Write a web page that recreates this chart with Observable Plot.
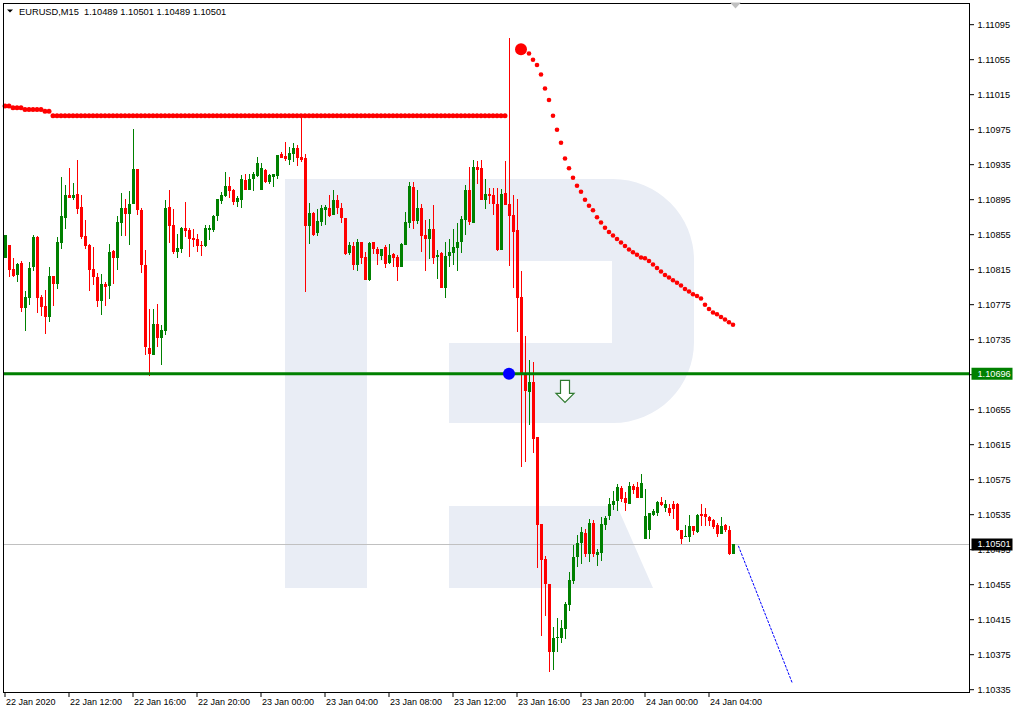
<!DOCTYPE html>
<html><head><meta charset="utf-8">
<script src="https://cdn.jsdelivr.net/npm/d3@7"></script>
<script src="https://cdn.jsdelivr.net/npm/@observablehq/plot@0.6"></script>
<style>
html,body{margin:0;padding:0;background:#fff;}
#chart{width:1015px;height:714px;overflow:hidden;}
</style></head><body>
<div id="chart"></div>
<script>
// ---- data (EURUSD M15, bar 0 = 22 Jan 2020 08:00) ----
const symbolName = "EURUSD", timeframe = "M15";
const open = [1.10828,1.10843,1.10815,1.10808,1.10822,1.10771,1.10782,1.10817,1.10852,1.10783,
1.10773,1.10760,1.10807,1.10798,1.10845,1.10874,1.10900,1.10896,1.10901,1.10886,
1.10853,1.10843,1.10815,1.10806,1.10779,1.10798,1.10796,1.10836,1.10828,1.10868,
1.10885,1.10878,1.10890,1.10930,1.10883,1.10820,1.10725,1.10717,1.10752,1.10736,
1.10744,1.10886,1.10865,1.10835,1.10838,1.10862,1.10860,1.10851,1.10850,1.10843,
1.10841,1.10860,1.10860,1.10876,1.10893,1.10899,1.10910,1.10906,1.10892,1.10894,
1.10917,1.10905,1.10918,1.10922,1.10905,1.10928,1.10915,1.10920,1.10922,1.10947,
1.10944,1.10940,1.10947,1.10953,1.10943,1.10942,1.10864,1.10879,1.10856,1.10869,
1.10883,1.10885,1.10877,1.10894,1.10885,1.10873,1.10833,1.10841,1.10820,1.10846,
1.10829,1.10803,1.10846,1.10838,1.10830,1.10840,1.10822,1.10832,1.10829,1.10818,
1.10843,1.10868,1.10909,1.10870,1.10885,1.10854,1.10849,1.10861,1.10829,1.10833,
1.10794,1.10830,1.10834,1.10839,1.10846,1.10871,1.10906,1.10868,1.10932,1.10931,
1.10894,1.10901,1.10900,1.10890,1.10837,1.10902,1.10890,1.10877,1.10860,1.10783,
1.10696,1.10675,1.10686,1.10623,1.10524,1.10484,1.10455,1.10378,1.10393,1.10394,
1.10404,1.10431,1.10459,1.10486,1.10502,1.10514,1.10489,1.10525,1.10488,1.10491,
1.10523,1.10533,1.10545,1.10550,1.10565,1.10553,1.10547,1.10567,1.10566,1.10554,
1.10507,1.10517,1.10534,1.10536,1.10549,1.10542,1.10542,1.10547,1.10547,1.10517,
1.10509,1.10509,1.10522,1.10515,1.10535,1.10535,1.10532,1.10528,1.10523,1.10512,
1.10523,1.10517,1.10489];
const high = [1.10854,1.10843,1.10828,1.10822,1.10824,1.10790,1.10823,1.10854,1.10853,1.10785,
1.10791,1.10817,1.10807,1.10852,1.10920,1.10911,1.10931,1.10913,1.10940,1.10900,
1.10871,1.10844,1.10840,1.10811,1.10810,1.10800,1.10844,1.10837,1.10876,1.10902,
1.10895,1.10904,1.10975,1.10930,1.10885,1.10837,1.10770,1.10770,1.10775,1.10751,
1.10894,1.10906,1.10884,1.10855,1.10863,1.10892,1.10862,1.10861,1.10855,1.10847,
1.10865,1.10865,1.10877,1.10895,1.10903,1.10926,1.10920,1.10907,1.10899,1.10923,
1.10924,1.10924,1.10926,1.10943,1.10936,1.10930,1.10924,1.10924,1.10946,1.10949,
1.10960,1.10955,1.10959,1.10957,1.10989,1.10947,1.10891,1.10880,1.10884,1.10888,
1.10888,1.10900,1.10906,1.10900,1.10891,1.10873,1.10846,1.10846,1.10850,1.10846,
1.10835,1.10846,1.10846,1.10840,1.10838,1.10843,1.10844,1.10833,1.10831,1.10845,
1.10880,1.10915,1.10915,1.10906,1.10890,1.10871,1.10872,1.10888,1.10837,1.10835,
1.10846,1.10850,1.10861,1.10868,1.10876,1.10911,1.10932,1.10940,1.10939,1.10940,
1.10918,1.10908,1.10908,1.10908,1.10907,1.10939,1.11079,1.10900,1.10895,1.10813,
1.10739,1.10711,1.10709,1.10623,1.10524,1.10487,1.10455,1.10406,1.10416,1.10414,
1.10435,1.10469,1.10500,1.10511,1.10520,1.10518,1.10529,1.10528,1.10495,1.10532,
1.10533,1.10553,1.10561,1.10569,1.10567,1.10560,1.10572,1.10569,1.10572,1.10581,
1.10564,1.10536,1.10541,1.10550,1.10555,1.10551,1.10547,1.10550,1.10548,1.10517,
1.10523,1.10534,1.10522,1.10535,1.10547,1.10542,1.10533,1.10529,1.10525,1.10532,
1.10524,1.10522,1.10501];
const low = [1.10828,1.10806,1.10806,1.10800,1.10766,1.10744,1.10774,1.10813,1.10765,1.10762,
1.10741,1.10755,1.10773,1.10792,1.10838,1.10861,1.10896,1.10894,1.10878,1.10850,
1.10838,1.10790,1.10797,1.10772,1.10763,1.10773,1.10781,1.10798,1.10814,1.10853,
1.10853,1.10843,1.10890,1.10877,1.10811,1.10717,1.10693,1.10717,1.10726,1.10705,
1.10740,1.10845,1.10832,1.10828,1.10833,1.10852,1.10829,1.10840,1.10835,1.10830,
1.10840,1.10848,1.10857,1.10870,1.10890,1.10898,1.10896,1.10888,1.10886,1.10885,
1.10905,1.10905,1.10904,1.10920,1.10905,1.10913,1.10912,1.10909,1.10918,1.10942,
1.10939,1.10934,1.10938,1.10933,1.10938,1.10789,1.10844,1.10853,1.10853,1.10864,
1.10865,1.10875,1.10877,1.10878,1.10868,1.10831,1.10831,1.10814,1.10813,1.10821,
1.10803,1.10801,1.10832,1.10820,1.10826,1.10816,1.10821,1.10817,1.10801,1.10817,
1.10843,1.10862,1.10861,1.10867,1.10835,1.10813,1.10827,1.10821,1.10804,1.10793,
1.10782,1.10817,1.10820,1.10813,1.10833,1.10854,1.10865,1.10868,1.10912,1.10894,
1.10884,1.10890,1.10877,1.10836,1.10837,1.10888,1.10819,1.10793,1.10743,1.10589,
1.10595,1.10637,1.10605,1.10474,1.10396,1.10419,1.10355,1.10357,1.10377,1.10388,
1.10392,1.10424,1.10455,1.10475,1.10478,1.10486,1.10480,1.10486,1.10476,1.10482,
1.10517,1.10528,1.10540,1.10539,1.10549,1.10539,1.10547,1.10558,1.10554,1.10554,
1.10507,1.10507,1.10533,1.10533,1.10544,1.10537,1.10533,1.10529,1.10516,1.10501,
1.10509,1.10503,1.10511,1.10514,1.10521,1.10521,1.10521,1.10518,1.10509,1.10512,
1.10515,1.10488,1.10489];
const close = [1.10854,1.10814,1.10807,1.10821,1.10771,1.10783,1.10816,1.10852,1.10782,1.10772,
1.10760,1.10807,1.10798,1.10846,1.10876,1.10900,1.10896,1.10900,1.10884,1.10852,
1.10841,1.10814,1.10806,1.10779,1.10798,1.10795,1.10835,1.10828,1.10869,1.10885,
1.10878,1.10890,1.10930,1.10883,1.10820,1.10726,1.10718,1.10752,1.10736,1.10746,
1.10885,1.10864,1.10835,1.10839,1.10862,1.10859,1.10849,1.10848,1.10841,1.10841,
1.10862,1.10862,1.10876,1.10895,1.10900,1.10910,1.10904,1.10892,1.10896,1.10918,
1.10905,1.10918,1.10924,1.10936,1.10931,1.10915,1.10923,1.10924,1.10946,1.10942,
1.10941,1.10948,1.10953,1.10942,1.10940,1.10864,1.10879,1.10854,1.10870,1.10885,
1.10886,1.10876,1.10894,1.10885,1.10873,1.10832,1.10843,1.10820,1.10846,1.10828,
1.10803,1.10845,1.10838,1.10832,1.10838,1.10821,1.10831,1.10828,1.10817,1.10844,
1.10869,1.10910,1.10870,1.10885,1.10853,1.10849,1.10861,1.10828,1.10831,1.10794,
1.10830,1.10835,1.10840,1.10846,1.10872,1.10906,1.10869,1.10932,1.10928,1.10894,
1.10901,1.10899,1.10890,1.10837,1.10901,1.10888,1.10876,1.10857,1.10782,1.10696,
1.10676,1.10686,1.10621,1.10523,1.10483,1.10455,1.10378,1.10394,1.10395,1.10405,
1.10432,1.10460,1.10486,1.10502,1.10515,1.10489,1.10525,1.10489,1.10492,1.10524,
1.10531,1.10547,1.10550,1.10566,1.10552,1.10548,1.10567,1.10563,1.10554,1.10571,
1.10533,1.10536,1.10539,1.10549,1.10545,1.10547,1.10536,1.10541,1.10517,1.10507,
1.10510,1.10522,1.10516,1.10534,1.10533,1.10532,1.10527,1.10520,1.10512,1.10522,
1.10517,1.10489,1.10501];
// flat red dotted indicator: [fromBar, toBar, value]
const levelRuns = [[0,1,1.11002],[2,4,1.11000],[5,9,1.10998],[10,11,1.10996],[12,125,1.10991]];
// descending red dotted projection, starting at bar 131
const curveStart = 131;
const curveValues = [1.11062,1.11055,1.11049,1.11038,1.11022,1.11009,1.10991,1.10975,1.10960,1.10942,
1.10931,1.10920,1.10911,1.10904,1.10895,1.10888,1.10883,1.10875,1.10869,1.10863,
1.10858,1.10854,1.10850,1.10846,1.10842,1.10838,1.10835,1.10832,1.10829,1.10828,
1.10825,1.10821,1.10817,1.10813,1.10809,1.10806,1.10803,1.10800,1.10797,1.10793,
1.10790,1.10787,1.10785,1.10782,1.10775,1.10770,1.10766,1.10764,1.10761,1.10758,
1.10755,1.10752];
const peakDot = [{i: 129, v: 1.11067}];
const signalDot = [{i: 126, v: 1.10696}];
const signalLevel = 1.10696;
const sellArrow = [{i: 140, v: 1.10676}];
const forecast = [{i: 183.5, v: 1.10499}, {i: 197, v: 1.10342}];
const yTicks = [1.11095,1.11055,1.11015,1.10975,1.10935,1.10895,1.10855,1.10815,1.10775,1.10735,
1.10695,1.10655,1.10615,1.10575,1.10535,1.10495,1.10455,1.10415,1.10375,1.10335];
const xTickBars = [0,16,32,48,64,80,96,112,128,144,160,176];
const xTickLabels = ["22 Jan 2020","22 Jan 12:00","22 Jan 16:00","22 Jan 20:00","23 Jan 00:00","23 Jan 04:00",
"23 Jan 08:00","23 Jan 12:00","23 Jan 16:00","23 Jan 20:00","24 Jan 00:00","24 Jan 04:00"];
const shiftBar = 182.75;

// ---- build ----
const bars = open.map((o, i) => ({i, o, h: high[i], l: low[i], c: close[i]}));
const bull = bars.filter(d => d.c >= d.o), bear = bars.filter(d => d.c < d.o);
const level = levelRuns.flatMap(([a, b, v]) => d3.range(a, b + 1).map(i => ({i, v})));
const curve = curveValues.map((v, k) => ({i: curveStart + k, v}));
const lastClose = close[close.length - 1];
const GREEN = "#008000", RED = "#ff0000";

const arrowSymbol = {draw(c){c.moveTo(-4.5,-11);c.lineTo(4.5,-11);c.lineTo(4.5,2);c.lineTo(9,2);c.lineTo(0,11);c.lineTo(-9,2);c.lineTo(-4.5,2);c.closePath();}};
const boxSymbol = {draw(c){c.moveTo(2,-6);c.lineTo(43,-6);c.lineTo(43,6);c.lineTo(2,6);c.closePath();}};
const shiftSymbol = {draw(c){c.moveTo(-5.5,-1);c.lineTo(5.5,-1);c.lineTo(0,5);c.closePath();}};
const fmt = d => d.toFixed(5);

const svg = Plot.plot({
  width: 1015, height: 714,
  marginLeft: 3, marginRight: 46, marginTop: 3, marginBottom: 22,
  style: {background: "transparent", fontFamily: "'Liberation Sans', Arial, sans-serif", fontSize: "9px", color: "black"},
  x: {type: "linear", domain: [-0.25, 241.25], axis: null, label: null},
  y: {domain: [1.103318, 1.111192], axis: null, label: null},
  marks: [
    Plot.ruleY([lastClose], {stroke: "#c0c0c0", strokeWidth: 1, shapeRendering: "crispEdges"}),
    Plot.ruleX(bull, {x: "i", y1: "l", y2: "h", stroke: GREEN, strokeWidth: 1, dx: 0.5, shapeRendering: "crispEdges"}),
    Plot.ruleX(bear, {x: "i", y1: "l", y2: "h", stroke: RED, strokeWidth: 1, dx: 0.5, shapeRendering: "crispEdges"}),
    Plot.ruleX(bull, {x: "i", y1: "o", y2: "c", stroke: GREEN, strokeWidth: 3, dx: 0.5, shapeRendering: "crispEdges"}),
    Plot.ruleX(bear, {x: "i", y1: "o", y2: "c", stroke: RED, strokeWidth: 3, dx: 0.5, shapeRendering: "crispEdges"}),
    Plot.ruleY([signalLevel], {stroke: GREEN, strokeWidth: 3}),
    Plot.dot(level, {x: "i", y: "v", r: 2.5, fill: RED, dx: 0.5}),
    Plot.dot(curve, {x: "i", y: "v", r: 2.3, fill: RED, dx: 0.5}),
    Plot.dot(peakDot, {x: "i", y: "v", r: 6, fill: RED, dx: 0.5}),
    Plot.dot(signalDot, {x: "i", y: "v", r: 6, fill: "#0000ff", dx: 0.5}),
    Plot.dot(sellArrow, {x: "i", y: "v", symbol: arrowSymbol, r: 5, fill: "white", stroke: "#2f7a2f", strokeWidth: 1.2, dx: 0.5}),
    Plot.line(forecast, {x: "i", y: "v", stroke: "#0000ff", strokeWidth: 1, strokeDasharray: "2,2"}),
    Plot.frame({stroke: "black", shapeRendering: "crispEdges"}),
    Plot.axisY(yTicks, {anchor: "right", label: null, tickSize: 4, tickPadding: 4, tickFormat: fmt, fontSize: 9.2}),
    Plot.axisX(xTickBars, {anchor: "bottom", label: null, tickSize: 5, tickFormat: () => "", dx: 0.5}),
    Plot.axisX(xTickBars, {anchor: "bottom", label: null, tickSize: 0, tickPadding: 6, textAnchor: "start", dx: 1.5,
      tickFormat: d => xTickLabels[xTickBars.indexOf(d)], fontSize: 9}),
    Plot.dot([signalLevel], {y: d => d, frameAnchor: "right", symbol: boxSymbol, r: 5, fill: GREEN}),
    Plot.dot([lastClose], {y: d => d, frameAnchor: "right", symbol: boxSymbol, r: 5, fill: "black"}),
    Plot.text([signalLevel, lastClose], {y: d => d, frameAnchor: "right", text: fmt, fill: "white", textAnchor: "start", dx: 8, fontSize: 9.2}),
    Plot.dot([shiftBar], {x: d => d, frameAnchor: "top", symbol: shiftSymbol, r: 5, fill: "#c0c0c0"})
  ]
});

// watermark logo behind everything
const g = d3.select(svg).insert("g", ":first-child").attr("fill", "#e9edf5");
g.append("path").attr("d", "M285,179H613A81,81 0 0 1 694,260V342A81,81 0 0 1 613,423H449V343H612V261H367V588H285Z");
g.append("path").attr("d", "M449,506H617L653,588H449Z");
d3.select(svg).insert("rect", ":first-child").attr("width", 1015).attr("height", 714).attr("fill", "white");

// header
const last = bars[bars.length - 1];
d3.select(svg).append("path").attr("d", "M7,9.5H13L10,12.5Z").attr("fill", "black");
d3.select(svg).append("text").attr("x", 19).attr("y", 14.5).attr("text-anchor", "start")
  .attr("font-family", "'Liberation Sans', Arial, sans-serif").attr("font-size", 9.3).attr("fill", "black")
  .style("white-space", "pre")
  .text(`${symbolName},${timeframe}  ${fmt(last.o)} ${fmt(last.h)} ${fmt(last.l)} ${fmt(last.c)}`);

document.getElementById("chart").appendChild(svg);
</script>
</body></html>
